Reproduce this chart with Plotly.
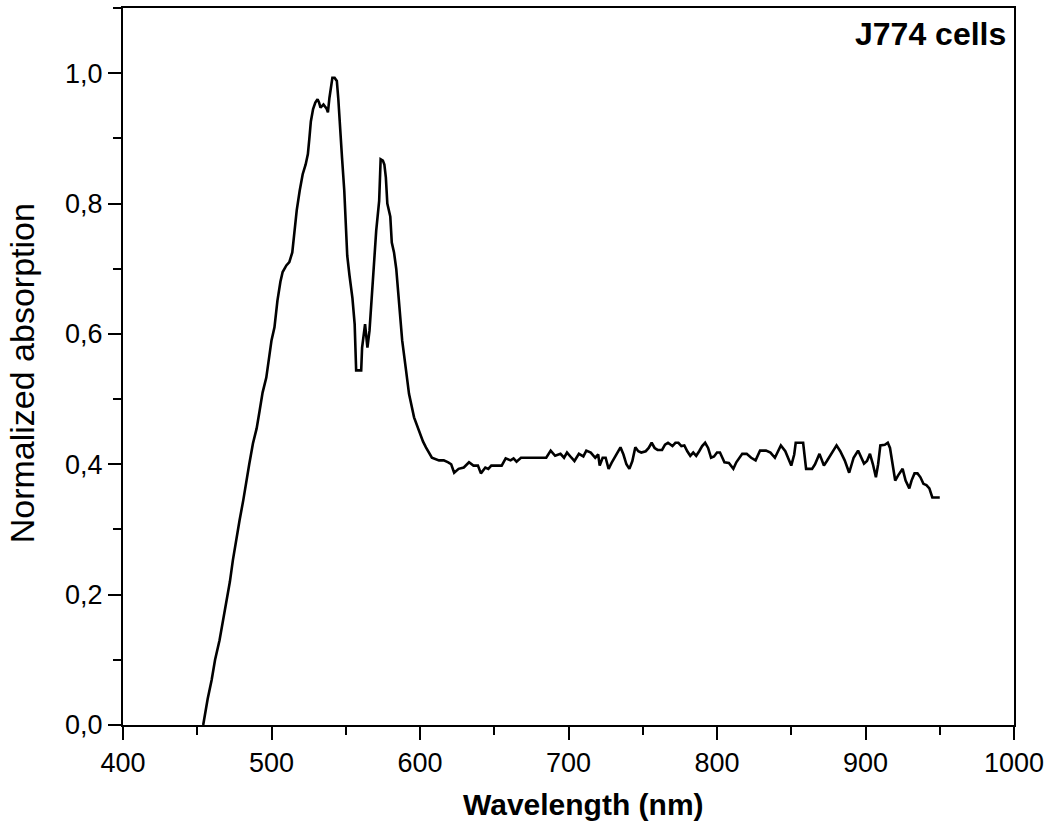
import plotly.graph_objects as go

wavelength = [454, 457, 459.7, 462, 465, 467.5, 469.8, 472, 474, 476, 478.5, 481, 483, 485, 487.5, 490, 492, 494,
              496.5, 498.7, 500, 502, 504, 506, 507.5, 510, 512, 514, 515.5, 517, 519, 521, 523, 524.5, 525.5,
              526.5, 528, 529.5, 531, 532, 533, 535, 537, 538, 539, 540, 541, 542.5, 544, 545, 546, 547.5, 549,
              550, 551, 552.5, 554.5, 556, 557, 560.4, 561, 563, 564, 564.6, 566, 567, 568, 569, 570.5, 571.5,
              572.5, 573.5, 575, 576, 577, 578, 580, 581, 582.5, 584, 586, 588, 590.6, 592.6, 596, 599, 602, 604,
              608, 612.8, 616, 619, 621, 623, 626, 629.5, 633, 636, 639, 641, 644, 646, 648, 655, 657.7, 661, 663,
              665, 668, 685, 688, 691, 694.6, 697, 699, 702, 704, 707, 710, 712, 715, 718, 720, 721, 723, 725, 727,
              729, 731, 733, 735, 737, 739, 741, 743, 745, 747, 749, 752, 754, 756, 758, 760, 763, 765, 767, 770,
              772, 774, 776, 778, 780, 782, 784, 786, 788, 790, 792, 794, 796, 798, 800, 802, 804, 805, 808, 811,
              813, 815, 817, 820, 823, 826, 829, 833, 836, 839, 841, 843, 846, 848, 850, 852, 853, 858, 860, 864,
              866, 869, 872, 874, 876, 878, 880.5, 883, 886, 889, 892, 895, 897, 899, 901, 903, 905, 907, 908.5,
              910, 913, 915, 916.5, 918, 920, 922, 925, 927, 929.5, 931, 933, 935, 937, 939, 941, 943, 945, 950]

absorption = [0.0, 0.04, 0.069, 0.10, 0.13, 0.16, 0.191, 0.22, 0.253, 0.283, 0.314, 0.345, 0.375, 0.40, 0.432,
              0.455, 0.482, 0.51, 0.533, 0.574, 0.59, 0.61, 0.651, 0.68, 0.695, 0.705, 0.71, 0.725, 0.76, 0.79,
              0.82, 0.845, 0.86, 0.876, 0.90, 0.926, 0.945, 0.955, 0.96, 0.955, 0.947, 0.952, 0.946, 0.94, 0.962,
              0.975, 0.993, 0.993, 0.988, 0.96, 0.93, 0.87, 0.82, 0.78, 0.72, 0.69, 0.655, 0.615, 0.544, 0.544,
              0.579, 0.615, 0.59, 0.579, 0.605, 0.635, 0.666, 0.707, 0.758, 0.78, 0.804, 0.868, 0.866, 0.86, 0.84,
              0.80, 0.78, 0.74, 0.725, 0.70, 0.64, 0.59, 0.544, 0.508, 0.472, 0.452, 0.435, 0.426, 0.41, 0.406,
              0.406, 0.403, 0.40, 0.387, 0.393, 0.395, 0.403, 0.398, 0.398, 0.386, 0.395, 0.393, 0.398, 0.398,
              0.409, 0.406, 0.409, 0.404, 0.41, 0.41, 0.421, 0.413, 0.416, 0.41, 0.418, 0.41, 0.405, 0.416, 0.412,
              0.421, 0.418, 0.41, 0.415, 0.398, 0.41, 0.41, 0.393, 0.402, 0.41, 0.42, 0.426, 0.415, 0.40, 0.393,
              0.405, 0.426, 0.42, 0.418, 0.42, 0.425, 0.433, 0.425, 0.422, 0.422, 0.43, 0.433, 0.428, 0.433, 0.433,
              0.428, 0.429, 0.42, 0.413, 0.418, 0.413, 0.42, 0.428, 0.433, 0.425, 0.41, 0.412, 0.418, 0.418, 0.408,
              0.403, 0.402, 0.393, 0.403, 0.41, 0.416, 0.416, 0.41, 0.406, 0.421, 0.421, 0.418, 0.41, 0.42, 0.429,
              0.42, 0.409, 0.398, 0.415, 0.433, 0.433, 0.393, 0.393, 0.40, 0.416, 0.398, 0.405, 0.413, 0.42, 0.429,
              0.42, 0.406, 0.387, 0.41, 0.421, 0.41, 0.401, 0.405, 0.416, 0.40, 0.38, 0.40, 0.429, 0.43, 0.433,
              0.425, 0.406, 0.375, 0.383, 0.393, 0.375, 0.363, 0.375, 0.386, 0.386, 0.38, 0.37, 0.368, 0.363,
              0.349, 0.349]

x_ticks = [400, 500, 600, 700, 800, 900, 1000]
y_ticks = [0.0, 0.2, 0.4, 0.6, 0.8, 1.0]
y_tick_labels = ["0,0", "0,2", "0,4", "0,6", "0,8", "1,0"]

FONT = "Liberation Sans, Arial, sans-serif"

fig = go.Figure()
fig.add_trace(go.Scatter(x=wavelength, y=absorption, mode="lines",
                         line=dict(color="black", width=2.6), showlegend=False))

axis_common = dict(showline=True, linecolor="black", linewidth=2, mirror=True,
                   showgrid=False, zeroline=False, ticks="outside", ticklen=13, tickwidth=2,
                   tickcolor="black", tickfont=dict(family=FONT, size=27, color="black"))

fig.update_xaxes(range=[400, 1000], tickvals=x_ticks, ticktext=[str(v) for v in x_ticks],
                 minor=dict(dtick=50, tick0=400, ticks="outside", ticklen=8, tickwidth=2, tickcolor="black"),
                 **axis_common)
fig.update_yaxes(range=[0, 1.1], tickvals=y_ticks, ticktext=y_tick_labels,
                 minor=dict(dtick=0.1, tick0=0, ticks="outside", ticklen=8, tickwidth=2, tickcolor="black"),
                 **axis_common)

fig.add_annotation(text="<b>Wavelength (nm)</b>", xref="paper", yref="paper", x=0.5165, y=-0.111,
                   xanchor="center", yanchor="middle", showarrow=False,
                   font=dict(family=FONT, size=30, color="black"))
fig.add_annotation(text="Normalized absorption", xref="paper", yref="paper", x=-0.113, y=0.491,
                   xanchor="center", yanchor="middle", textangle=-90, showarrow=False,
                   font=dict(family=FONT, size=34, color="black"))
fig.add_annotation(text="<b>J774 cells</b>", xref="paper", yref="paper", x=0.993, y=0.992,
                   xanchor="right", yanchor="top", showarrow=False,
                   font=dict(family=FONT, size=32, color="black"))

fig.update_layout(width=1050, height=828, margin=dict(l=123, r=33, t=6, b=103),
                  paper_bgcolor="white", plot_bgcolor="white")

fig.write_html("out.html", config={"displayModeBar": False},
               post_script="document.body.style.margin='0';")
